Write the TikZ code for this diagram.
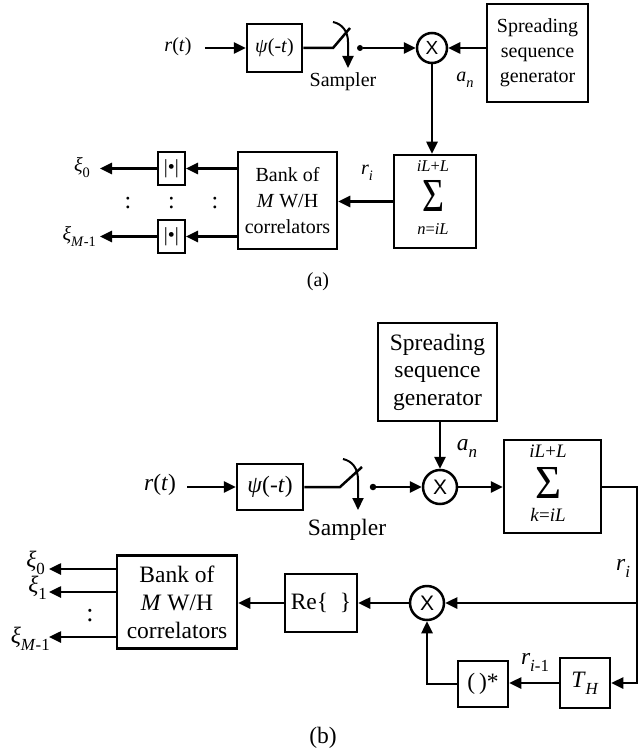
\documentclass[tikz,border=0pt]{standalone}
\usepackage{fontspec}
\usepackage{graphicx}
\setmainfont{Liberation Serif}
\newfontfamily\sansx{Liberation Sans}
\usetikzlibrary{arrows.meta}
\newcommand\sbs[1]{\raisebox{-0.3em}{\scalebox{0.72}{#1}}}
\newcommand\fa{\fontsize{20}{25}\selectfont}
\newcommand\fb{\fontsize{23.5}{27.5}\selectfont}
\begin{document}
\begin{tikzpicture}[x=1pt,y=-1pt,
 lw/.style={line width=2.5pt},
 blk/.style={draw,line width=2.5pt,inner sep=0pt,align=center},
 arr/.style={line width=2.5pt,-{Triangle[length=12pt,width=11pt]}},
 mul/.style={draw,circle,line width=2.5pt,inner sep=0pt},
 lab/.style={inner sep=0pt}]
\useasboundingbox (0,0) rectangle (639,754);

% ---------------- (a) ----------------
\node[lab,font=\fa] (rtA) at (178,47) {\textit{r}(\textit{t})};
\node[blk,minimum width=55pt,minimum height=48pt,font=\fa] (psiA) at (274.5,48) {\textit{ψ}(-\textit{t})};
\coordinate (swA) at (333,48);
\coordinate (bladeA) at (350,28);
\node[circle,fill,inner sep=0pt,minimum size=6pt] (dotA) at (360,48) {};
\node[mul,minimum size=30pt,font=\sansx\fontsize{19}{19}\selectfont] (mulA) at (432,48) {X};
\node[blk,minimum width=101pt,minimum height=98pt,font=\fa] (spA) at (537.5,53) {Spreading\\sequence\\generator};
\node[lab,font=\fa] (samA) at (343,82) {Sampler};
\node[lab,font=\fa] (anA) at (465,80) {\textit{a}\sbs{\textit{n}}};

\draw[arr] ([xshift=13pt]rtA.east |- psiA.west) -- (psiA.west);
\draw[lw] (psiA.east) -- (swA) -- (bladeA);
\draw[arr,line width=2pt] (333,22) .. controls (342,24) and (348,31) .. (348,42) -- (348,68);
\draw[arr] (dotA) -- (mulA.west);
\draw[arr] (spA.west |- mulA) -- (mulA.east);

\node[blk,minimum width=82pt,minimum height=93pt] (sumA) at (435,201.5) {};
\node[lab,font=\fontsize{16.5}{16.5}\selectfont] (sumAt) at (433,166) {\textit{iL}+\textit{L}};
\node[lab] (sumAs) at (433,196) {\resizebox{22pt}{31pt}{Σ}};
\node[lab,font=\fontsize{16.5}{16.5}\selectfont] (sumAb) at (433,229) {\textit{n}=\textit{iL}};
\draw[arr] (mulA.south) -- (mulA.south |- sumA.north);

\node[blk,minimum width=99pt,minimum height=97pt,font=\fontsize{20}{26}\selectfont] (bankA) at (287.5,200.5) {Bank of\\\textit{M} W/H\\correlators};
\draw[arr] (sumA.west) -- (sumA.west -| bankA.east);
\node[lab,font=\fa] (riA) at (367,173) {\textit{r}\sbs{\textit{i}}};

\node[blk,line width=2pt,minimum width=27pt,minimum height=33pt,font=\fa] (absA1) at (171.5,168.5) {|•|};
\node[blk,line width=2pt,minimum width=27pt,minimum height=33pt,font=\fa] (absA2) at (171.5,236.5) {|•|};
\draw[arr] (bankA.west |- absA1) -- (absA1.east);
\draw[arr] (bankA.west |- absA2) -- (absA2.east);
\coordinate (oA1) at (100,168.5);
\coordinate (oA2) at (100,236.5);
\draw[arr] (absA1.west) -- (oA1);
\draw[arr] (absA2.west) -- (oA2);
\node[lab,font=\fa,anchor=east] (xiA0) at (90,168) {\textit{ξ}\sbs{0}};
\node[lab,font=\fa,anchor=east] (xiA1) at (96,237) {\textit{ξ}\sbs{\textit{M}-1}};
\node[lab,font=\fontsize{24}{24}\selectfont] (dA1) at (128,203) {:};
\node[lab,font=\fontsize{24}{24}\selectfont] (dA2) at (171.5,203) {:};
\node[lab,font=\fontsize{24}{24}\selectfont] (dA3) at (215,203) {:};
\node[lab,font=\fa] (capA) at (318,282) {(a)};

% ---------------- (b) ----------------
\node[blk,minimum width=119pt,minimum height=98pt,font=\fb] (spB) at (437.5,372) {Spreading\\sequence\\generator};
\node[mul,minimum size=34pt,font=\sansx\fontsize{21}{21}\selectfont] (mulB) at (440,487) {X};
\draw[arr] (mulB.north |- spB.south) -- (mulB.north);
\node[lab,font=\fb] (anB) at (467,448) {\textit{a}\sbs{\textit{n}}};

\node[lab,font=\fb] (rtB) at (160,485) {\textit{r}(\textit{t})};
\node[blk,minimum width=66pt,minimum height=46pt,font=\fb] (psiB) at (270,487) {\textit{ψ}(-\textit{t})};
\draw[arr] ([xshift=11pt]rtB.east |- psiB.west) -- (psiB.west);
\coordinate (swB) at (340,487);
\coordinate (bladeB) at (362,467);
\node[circle,fill,inner sep=0pt,minimum size=6.5pt] (dotB) at (373,487) {};
\draw[lw] (psiB.east) -- (swB) -- (bladeB);
\draw[arr,line width=2pt] (343,459) .. controls (352,461) and (358,468) .. (358,480) -- (358,510);
\draw[arr] (dotB) -- (mulB.west);
\node[lab,font=\fb] (samB) at (347,530) {Sampler};

\node[blk,minimum width=97pt,minimum height=93pt] (sumB) at (552.5,486.5) {};
\node[lab,font=\fontsize{19}{19}\selectfont] (sumBt) at (548,451) {\textit{iL}+\textit{L}};
\node[lab] (sumBs) at (548,483) {\resizebox{26pt}{31pt}{Σ}};
\node[lab,font=\fontsize{19}{19}\selectfont] (sumBb) at (548,515) {\textit{k}=\textit{iL}};
\draw[arr] (mulB.east) -- (mulB.east -| sumB.west);

\node[blk,minimum width=50pt,minimum height=50pt,font=\fb] (TH) at (585,683) {\textit{T}\sbs{\textit{H}}};
\node[blk,minimum width=50pt,minimum height=46pt,font=\fb] (conj) at (483,684) {(\,)*};
\node[mul,minimum size=34pt,font=\sansx\fontsize{21}{21}\selectfont] (mulB2) at (427,603) {X};
\node[blk,minimum width=72pt,minimum height=58pt,font=\fb] (reB) at (321,603) {Re\{\ \ \}};
\node[blk,minimum width=120pt,minimum height=93pt,font=\fontsize{23.5}{28}\selectfont] (bankB) at (177,602) {Bank of\\\textit{M} W/H\\correlators};

\coordinate (rc1) at (637,487);
\draw[arr] (mulB.east -| sumB.east) -- (rc1) -- (rc1 |- TH) -- (TH.east);
\draw[arr] (rc1 |- mulB2) -- (mulB2.east);
\node[lab,font=\fb] (riB) at (623,568) {\textit{r}\sbs{\textit{i}}};
\draw[arr] (TH.west) -- (TH.west -| conj.east);
\node[lab,font=\fb] (ri1B) at (535,662) {\textit{r}\sbs{\textit{i}-1}};
\draw[arr] (conj.west) -- (conj.west -| mulB2.south) -- (mulB2.south);
\draw[arr] (mulB2.west) -- (mulB2.west -| reB.east);
\draw[arr] (reB.west) -- (reB.west -| bankB.east);

\coordinate (oB0) at (49,569);
\coordinate (oB1) at (49,592);
\coordinate (oB2) at (49,637);
\draw[arr] (bankB.west |- oB0) -- (oB0);
\draw[arr] (bankB.west |- oB1) -- (oB1);
\draw[arr] (bankB.west |- oB2) -- (oB2);
\node[lab,font=\fb,anchor=east] (xiB0) at (45,563) {\textit{ξ}\sbs{0}};
\node[lab,font=\fb,anchor=east] (xiB1) at (47,588) {\textit{ξ}\sbs{1}};
\node[lab,font=\fb,anchor=east] (xiB2) at (50,639) {\textit{ξ}\sbs{\textit{M}-1}};
\node[lab,font=\fontsize{26}{26}\selectfont] (dB) at (90,616) {:};
\node[lab,font=\fb] (capB) at (323,738) {(b)};
\end{tikzpicture}
\end{document}
